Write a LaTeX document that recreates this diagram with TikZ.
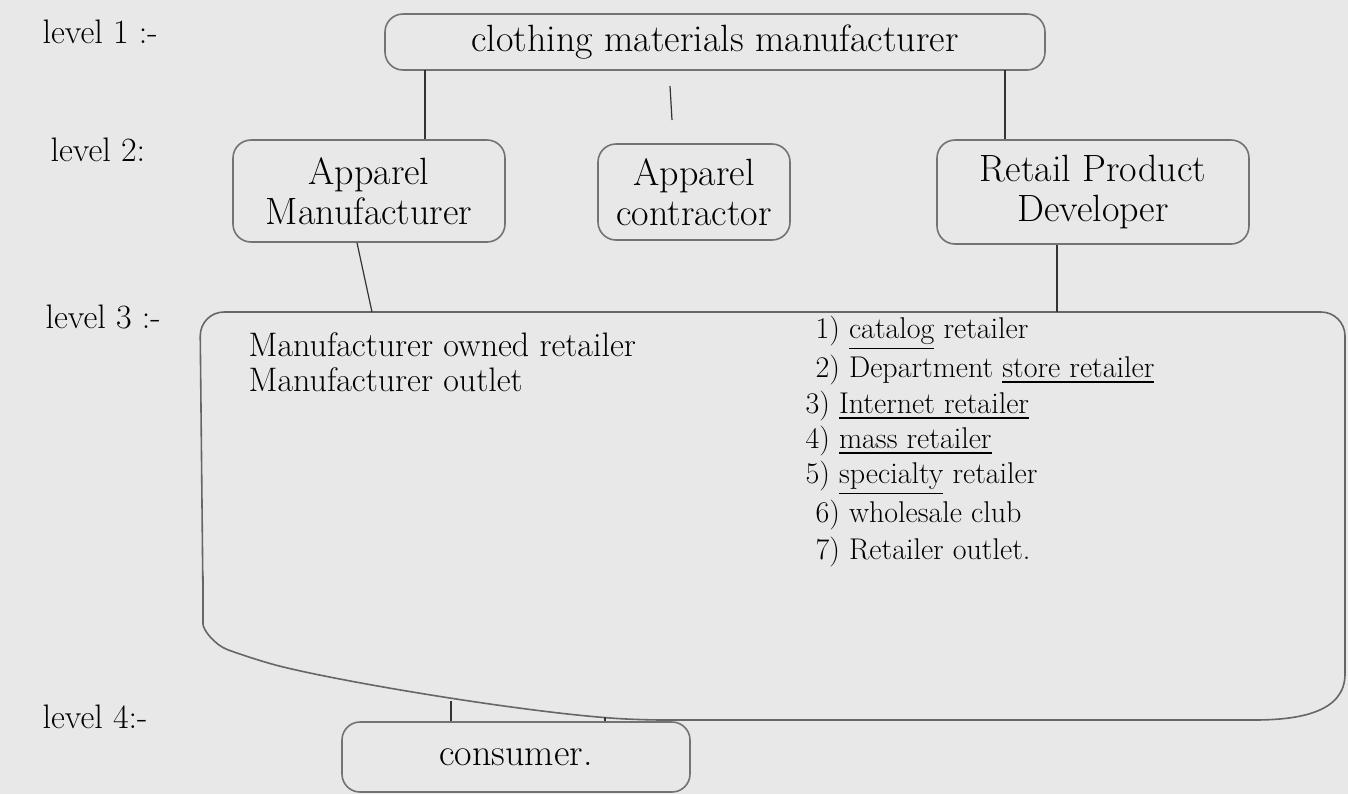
\documentclass[tikz,border=0pt]{standalone}
\usepackage{amsmath,amssymb}
\usepackage{tikz}
\usetikzlibrary{arrows,positioning}

\begin{document}
\begin{tikzpicture}[x=0.5pt,y=-0.5pt,semithick,font=\fontsize{17}{21}\selectfont]
\tikzstyle{box}=[draw=black!55,thick,rounded corners=9pt,align=center,inner sep=0pt,font=\fontsize{19}{20}\selectfont]
\tikzstyle{lvl}=[anchor=west,inner sep=0pt]
\tikzstyle{item}=[anchor=west,inner sep=0pt,font=\fontsize{15}{18}\selectfont]
\tikzstyle{link}=[draw=black!80]
\tikzstyle{frame}=[draw=black!60,thick,rounded corners=12pt]
\fill[black!9] (0,0) rectangle (1348,794);
\useasboundingbox (0,0) rectangle (1348,794);

% level 1
\node[lvl] (lv1) at (42,32) {level 1 :-};
\node[box,minimum width=330pt,minimum height=28pt] (cmm) at (715,42) {clothing materials manufacturer};

% level 2
\node[lvl] (lv2) at (50,150) {level 2:};
\node[box,minimum width=136pt,minimum height=51pt] (am) at (369,191) {Apparel\\Manufacturer};
\node[box,minimum width=96pt,minimum height=48pt] (ac) at (694,192) {Apparel\\contractor};
\node[box,minimum width=156pt,minimum height=52pt] (rpd) at (1093,192) {Retail Product\\Developer};

\coordinate (s1) at (425,70);
\coordinate (s2a) at (670,86);
\coordinate (s2b) at (672,120);
\coordinate (s3) at (1005,70);
\draw[link] (s1) -- (s1 |- am.north);
\draw[link] (s2a) -- (s2b);
\draw[link] (s3) -- (rpd.north -| s3);

% level 3
\node[lvl] (lv3) at (45,317) {level 3 :-};
\draw[frame] (203,600) -- (200,312) -- (1345,312) -- (1345,650)
  .. controls (1345,712) and (1300,720) .. (1230,720) -- (640,720)
  .. controls (520,712) and (330,680) .. (250,658)
  .. controls (215,645) and (203,630) .. cycle;
\coordinate (f1) at (372,312);
\coordinate (f2) at (1057,312);
\coordinate (fb1) at (451,701);
\coordinate (fb2) at (605,717);
\draw[link] ([xshift=-6pt]am.south) -- (f1);
\draw[link] ([xshift=-18pt]rpd.south) -- (f2);

\node[item,font=\fontsize{17}{20}\selectfont] (mor) at (248,345) {Manufacturer owned retailer};
\node[item,font=\fontsize{17}{20}\selectfont] (mo) at (248,380) {Manufacturer outlet};
\node[item] (r1) at (815,333) {1) \underline{catalog} retailer};
\node[item] (r2) at (815,370) {2) Department \underline{store retailer}};
\node[item] (r3) at (805,406) {3) \underline{Internet retailer}};
\node[item] (r4) at (805,441) {4) \underline{mass retailer}};
\node[item] (r5) at (805,478) {5) \underline{specialty} retailer};
\node[item] (r6) at (815,515) {6) wholesale club};
\node[item] (r7) at (815,552) {7) Retailer outlet.};

% level 4
\node[lvl] (lv4) at (42,717) {level 4:-};
\node[box,minimum width=174pt,minimum height=35pt] (con) at (516,757) {consumer.};
\draw[link] (fb1) -- (fb1 |- con.north);
\draw[link] (fb2) -- (fb2 |- con.north);
\end{tikzpicture}
\end{document}
